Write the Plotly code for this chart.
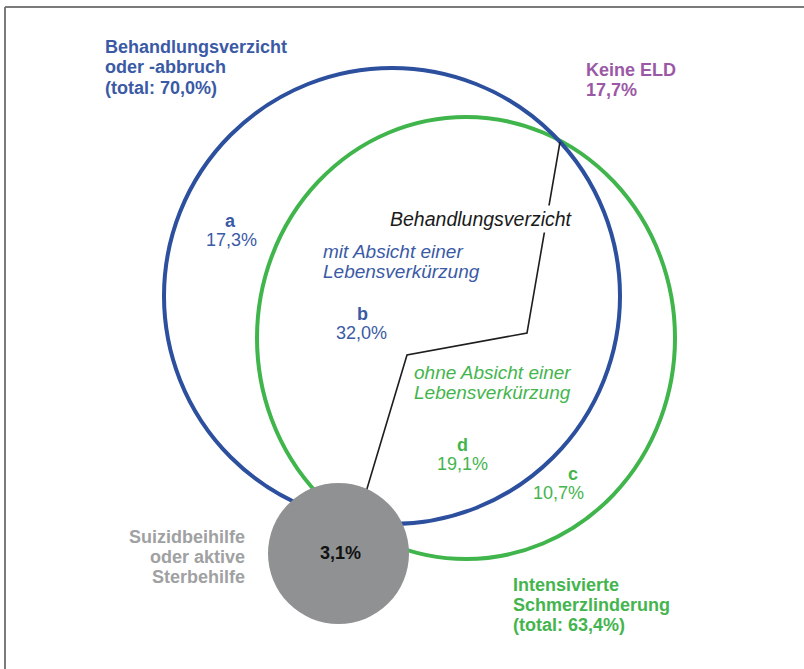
import plotly.graph_objects as go

# ---- data ----
segment_keys = ["a", "b", "d", "c"]
segment_values = [17.3, 32.0, 19.1, 10.7]
total_behandlung = 70.0
total_schmerz = 63.4
keine_eld = 17.7
suizid = 3.1

def pct(v):
    return f"{v:.1f}".replace(".", ",") + "%"

BLUE_LINE = "#2c4f9e"
BLUE_TXT = "#3a5aa6"
GREEN_LINE = "#3fb54b"
GREEN_TXT = "#44b54e"
PURPLE = "#9b58a6"
GRAY_FILL = "#8f9192"
GRAY_TXT = "#a0a1a2"
FONT = "Liberation Sans, Arial, sans-serif"

W, H = 804, 669
fig = go.Figure()
fig.add_trace(go.Scatter(x=[0, W], y=[0, H], mode="markers", marker=dict(opacity=0), hoverinfo="skip", showlegend=False))

shapes = []
# frame lines
shapes.append(dict(type="line", x0=5, y0=7, x1=W, y1=7, line=dict(color="#7a7a7a", width=2)))
shapes.append(dict(type="line", x0=5, y0=7, x1=5, y1=H, line=dict(color="#7a7a7a", width=2)))
# green (Intensivierte Schmerzlinderung)
shapes.append(dict(type="circle", x0=257, x1=675, y0=117, y1=559, line=dict(color=GREEN_LINE, width=4)))
# blue (Behandlungsverzicht)
shapes.append(dict(type="circle", x0=164, x1=620, y0=68, y1=524, line=dict(color=BLUE_LINE, width=4)))
# separator path
shapes.append(dict(type="path", path="M 560 142 L 527 333 L 407 355 L 366 492",
                   line=dict(color="#1e1e1e", width=1.6)))
# gray circle
shapes.append(dict(type="circle", x0=268, x1=409, y0=483, y1=624, fillcolor=GRAY_FILL, line=dict(width=0)))

annotations = []
def txt(x, y, s, color, size=18, anchor="center", bold=False, italic=False, bg=None):
    if bold:
        s = f"<b>{s}</b>"
    if italic:
        s = f"<i>{s}</i>"
    d = dict(x=x, y=y, xref="x", yref="y", text=s, showarrow=False, xanchor=anchor, yanchor="middle",
             font=dict(family=FONT, size=size, color=color))
    if bg:
        d.update(bgcolor=bg, borderpad=2)
    annotations.append(d)

# blue group label
txt(103, 47, "Behandlungsverzicht", BLUE_TXT, anchor="left", bold=True)
txt(103, 67, "oder -abbruch", BLUE_TXT, anchor="left", bold=True)
txt(103, 88, f"(total: {pct(total_behandlung)})", BLUE_TXT, anchor="left", bold=True)
# Keine ELD
txt(584, 70, "Keine ELD", PURPLE, anchor="left", bold=True)
txt(584, 90, pct(keine_eld), PURPLE, anchor="left", bold=True)
# segments
vals = dict(zip(segment_keys, segment_values))
txt(230, 221, "a", BLUE_TXT, bold=True)
txt(231, 240, pct(vals["a"]), BLUE_TXT)
txt(362, 314, "b", BLUE_TXT, bold=True)
txt(361, 333, pct(vals["b"]), BLUE_TXT)
txt(462, 445, "d", GREEN_TXT, bold=True)
txt(462, 464, pct(vals["d"]), GREEN_TXT)
txt(573, 474, "c", GREEN_TXT, bold=True)
txt(558, 493, pct(vals["c"]), GREEN_TXT)
# inner italic labels
txt(481, 219, "Behandlungsverzicht", "#1a1a1a", size=19.5, italic=True, bg="white")
txt(321, 251, "mit Absicht einer", BLUE_TXT, size=19, anchor="left", italic=True)
txt(321, 271, "Lebensverkürzung", BLUE_TXT, size=19, anchor="left", italic=True)
txt(412, 372, "ohne Absicht einer", GREEN_TXT, size=19, anchor="left", italic=True)
txt(412, 392, "Lebensverkürzung", GREEN_TXT, size=19, anchor="left", italic=True)
# green group label
txt(511, 585, "Intensivierte", GREEN_TXT, anchor="left", bold=True)
txt(511, 605, "Schmerzlinderung", GREEN_TXT, anchor="left", bold=True)
txt(511, 625, f"(total: {pct(total_schmerz)})", GREEN_TXT, anchor="left", bold=True)
# gray
txt(247, 537, "Suizidbeihilfe", GRAY_TXT, anchor="right", bold=True)
txt(247, 557, "oder aktive", GRAY_TXT, anchor="right", bold=True)
txt(247, 577, "Sterbehilfe", GRAY_TXT, anchor="right", bold=True)
txt(340, 553, pct(suizid), "#111111", bold=True)

fig.update_layout(
    width=W, height=H, margin=dict(l=0, r=0, t=0, b=0),
    paper_bgcolor="white", plot_bgcolor="white",
    xaxis=dict(range=[0, W], visible=False, fixedrange=True),
    yaxis=dict(range=[H, 0], visible=False, fixedrange=True),
    shapes=shapes, annotations=annotations, showlegend=False,
)
fig.write_html("out.html", config={"displayModeBar": False},
               post_script="document.body.style.margin='0px';document.body.style.overflow='hidden';")
